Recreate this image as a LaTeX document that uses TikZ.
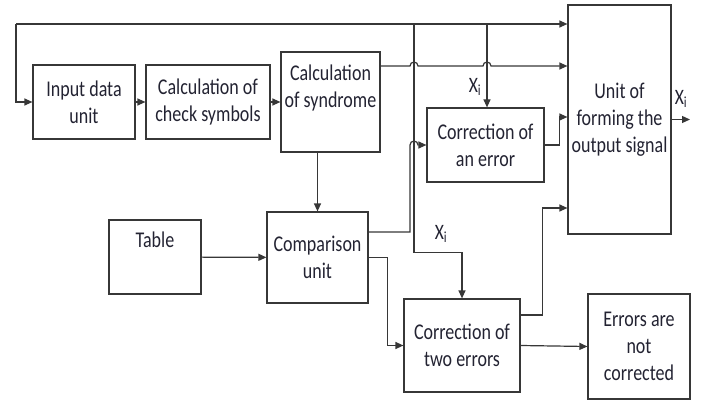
\documentclass[tikz,border=0pt]{standalone}
\usepackage{fontspec}
\setmainfont{Carlito}[FakeStretch=0.8]
\usetikzlibrary{arrows.meta,calc}
\definecolor{ink}{RGB}{35,35,50}
\definecolor{wire}{RGB}{55,55,55}

\begin{document}
\begin{tikzpicture}[x=1pt, y=1pt,
    blk/.style={draw=wire, line width=1.2pt, inner sep=0pt, align=center, text=ink,
      font=\fontsize{22.5}{27}\selectfont},
    sig/.style={draw=wire, line width=1.2pt, -{Triangle[length=8pt,width=7pt]}},
    xlab/.style={text=ink, inner sep=0pt, font=\fontsize{22}{24}\selectfont}]
  \useasboundingbox (0,0) rectangle (701,-401);

  \node [blk, minimum width=102pt, minimum height=74pt] (in) at (84,-102) {Input data\\unit};
  \node [blk, minimum width=124pt, minimum height=74pt] (chk) at (208,-102) {Calculation of\\check symbols};
  \node [blk, minimum width=99pt, minimum height=100pt,
    label={[blk, draw=none, anchor=north, yshift=-13pt]north:Calculation\\of syndrome}] (syn) at (330.5,-102) {};
  \node [blk, minimum width=103pt, minimum height=229pt] (form) at (619.5,-119.5) {Unit of\\forming the\\output signal};
  \node [blk, minimum width=117pt, minimum height=74pt] (err1) at (485.5,-145) {Correction of\\an error};
  \node [blk, minimum width=92pt, minimum height=74pt,
    label={[blk, draw=none, anchor=north, yshift=-12pt]north:Table}] (tab) at (155,-257) {};
  \node [blk, minimum width=101pt, minimum height=91pt] (cmp) at (317.5,-257.5) {Comparison\\unit};
  \node [blk, minimum width=116pt, minimum height=93pt] (err2) at (462,-345.5) {Correction of\\two errors};
  \node [blk, minimum width=102pt, minimum height=105pt] (nc) at (639,-346.5) {Errors are\\not\\corrected};

  \coordinate (loop) at (16,-24);
  \coordinate (tapA) at (414,-24);
  \coordinate (tapB) at (487,-24);
  \coordinate (out) at (690,-119.5);
  \coordinate (synout) at ([yshift=36pt]syn.east);
  \coordinate (cmpup) at ([yshift=25.5pt]cmp.east);

  % feedback bus
  \draw [sig] (loop) |- (in.west);
  \draw [sig] (loop) -- (loop -| form.west);
  \draw [sig] (tapB) -- (tapB |- err1.north);
  \draw [sig] (tapA) |- ($(err2.north)+(0,46)$) -- (err2.north);

  \draw [sig] (in) -- (chk);
  \draw [sig] (chk) -- (syn);
  \draw [sig] (synout) -- ($(synout -| tapA)+(-4,0)$) arc[start angle=180, end angle=0, radius=4]
    -- ($(synout -| tapB)+(-4,0)$) arc[start angle=180, end angle=0, radius=4]
    -- (synout -| form.west);
  \draw [sig] (syn.south -| cmp.north) -- (cmp.north);
  \draw [sig] (tab) -- (cmp);
  \draw [sig] (cmpup) -| ($(err1.west -| tapA)+(-4,0)$) arc[start angle=180, end angle=0, radius=4]
    -- (err1.west);
  \draw [sig] (cmp.east) -- ++(19,0) |- (err2.west);
  \draw [sig] (err1.east) -- ++(15,0) |- ([yshift=2.5pt]form.west);
  \draw [sig] ([yshift=30.5pt]err2.east) -- ++(22,0) |- ([yshift=-88.5pt]form.west);
  \draw [sig] (err2.east) -- (nc.west);
  \draw [sig] (form.east) -- (out);

  \node [xlab] (xa) at (475,-87) {X\textsubscript{i}};
  \node [xlab] (xb) at (441,-234) {X\textsubscript{i}};
  \node [xlab] (xc) at (681,-99) {X\textsubscript{i}};
\end{tikzpicture}
\end{document}
